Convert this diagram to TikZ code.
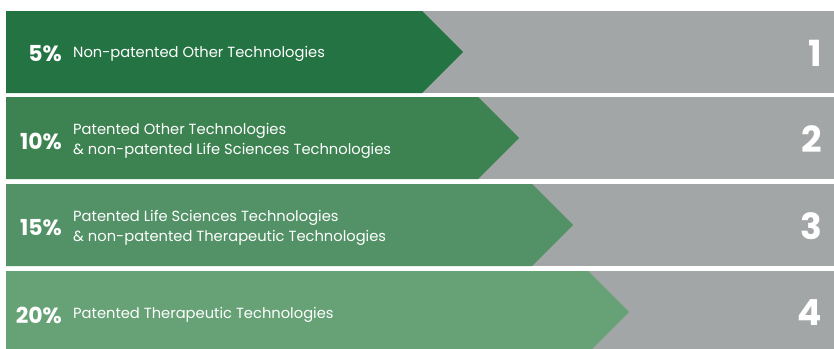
\documentclass[tikz,border=0pt]{standalone}
\usepackage{fontspec}
\setmainfont{Poppins}
\definecolor{greyband}{HTML}{A3A6A6}
\definecolor{greenA}{HTML}{247443}
\definecolor{greenB}{HTML}{3D8251}
\definecolor{greenC}{HTML}{529266}
\definecolor{greenD}{HTML}{66A276}
\tikzset{
  pct/.style={anchor=east,text=white,font=\fontsize{22}{22}\selectfont\bfseries,inner sep=0pt},
  desc/.style={anchor=west,text=white,align=left,font=\fontsize{14.7}{20}\selectfont,inner sep=0pt},
  rank/.style={anchor=east,text=white,font=\fontsize{36}{36}\selectfont\bfseries,inner sep=0pt}
}
\begin{document}
\begin{tikzpicture}[x=1pt,y=-1pt]
\useasboundingbox (0,0) rectangle (834,348);
\fill[greyband] (6,11) rectangle (834,93);
\fill[greyband] (6,97) rectangle (834,179);
\fill[greyband] (6,184) rectangle (834,266);
\fill[greyband] (6,271) rectangle (834,353);
\fill[greenA] (6,11) -- (422,11) -- (463,52) -- (422,93) -- (6,93) -- cycle;
\fill[greenB] (6,97) -- (478,97) -- (519,138) -- (478,179) -- (6,179) -- cycle;
\fill[greenC] (6,184) -- (532,184) -- (573,225) -- (532,266) -- (6,266) -- cycle;
\fill[greenD] (6,271) -- (588,271) -- (629,312) -- (588,353) -- (6,353) -- cycle;
\node[pct] (p1) at (62,54) {5\%};
\node[pct] (p2) at (62,141) {10\%};
\node[pct] (p3) at (62,228) {15\%};
\node[pct] (p4) at (62,315) {20\%};
\node[desc] (d1) at (73,54) {Non-patented Other Technologies};
\node[desc] (d2) at (73,141) {Patented Other Technologies\\\& non-patented Life Sciences Technologies};
\node[desc] (d3) at (73,228) {Patented Life Sciences Technologies\\\& non-patented Therapeutic Technologies};
\node[desc] (d4) at (73,315) {Patented Therapeutic Technologies};
\node[rank] (r1) at (822,53) {1};
\node[rank] (r2) at (822,139) {2};
\node[rank] (r3) at (822,226) {3};
\node[rank] (r4) at (822,313) {4};
\end{tikzpicture}
\end{document}
